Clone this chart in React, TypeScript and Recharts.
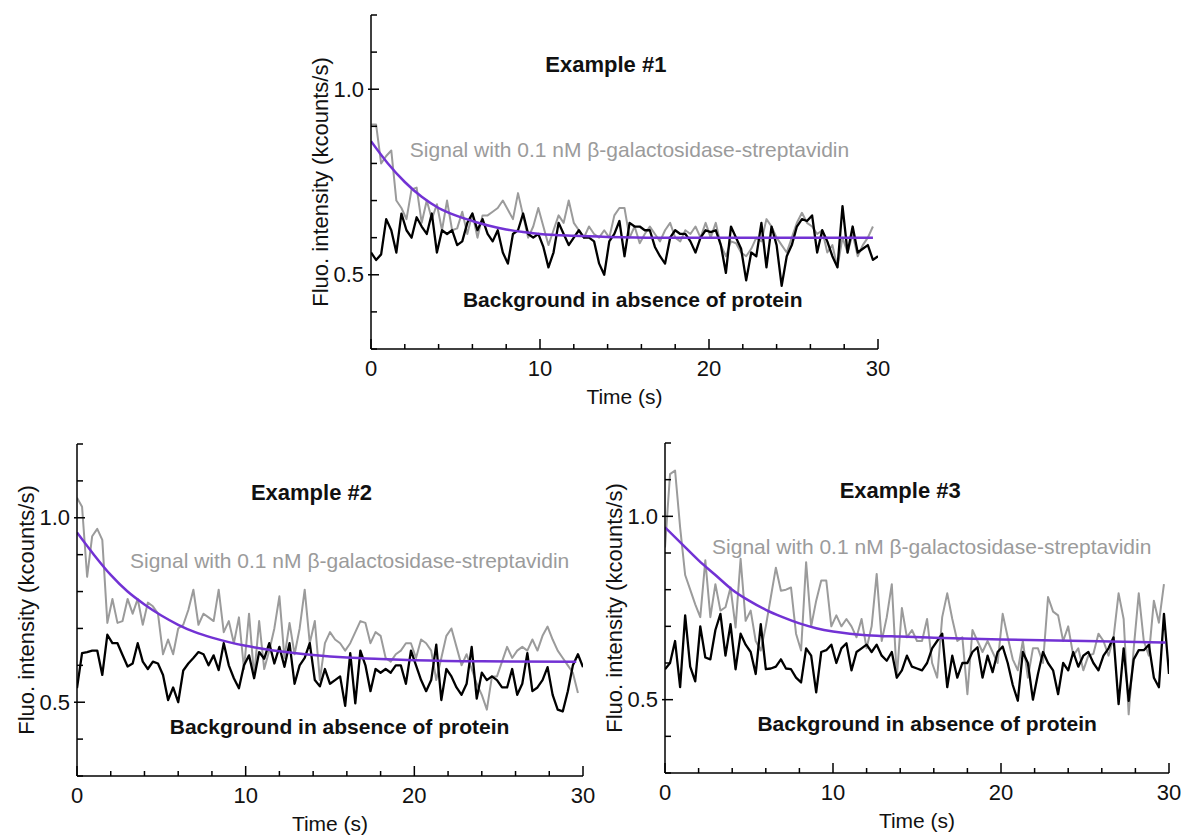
import React from 'react';
import { LineChart, Line, XAxis, YAxis, ReferenceDot } from 'recharts';

const FONT = '"Liberation Sans", Arial, Helvetica, sans-serif';

// sampling grid (s)
const TIME = [
  0, 0.3, 0.6, 0.9, 1.2, 1.5, 1.8, 2.1, 2.4, 2.7,
  3, 3.3, 3.6, 3.9, 4.2, 4.5, 4.8, 5.1, 5.4, 5.7,
  6, 6.3, 6.6, 6.9, 7.2, 7.5, 7.8, 8.1, 8.4, 8.7,
  9, 9.3, 9.6, 9.9, 10.2, 10.5, 10.8, 11.1, 11.4, 11.7,
  12, 12.3, 12.6, 12.9, 13.2, 13.5, 13.8, 14.1, 14.4, 14.7,
  15, 15.3, 15.6, 15.9, 16.2, 16.5, 16.8, 17.1, 17.4, 17.7,
  18, 18.3, 18.6, 18.9, 19.2, 19.5, 19.8, 20.1, 20.4, 20.7,
  21, 21.3, 21.6, 21.9, 22.2, 22.5, 22.8, 23.1, 23.4, 23.7,
  24, 24.3, 24.6, 24.9, 25.2, 25.5, 25.8, 26.1, 26.4, 26.7,
  27, 27.3, 27.6, 27.9, 28.2, 28.5, 28.8, 29.1, 29.4, 29.7,
  30,
];

// Example #1
const EX1_SIGNAL = [
  0.905, 0.905, 0.80, 0.82, 0.835, 0.70, 0.68, 0.65, 0.73, 0.735,
  0.64, 0.70, 0.65, 0.69, 0.62, 0.70, 0.62, 0.625, 0.67, 0.61,
  0.665, 0.60, 0.66, 0.66, 0.67, 0.68, 0.70, 0.675, 0.65, 0.72,
  0.66, 0.60, 0.63, 0.68, 0.63, 0.58, 0.62, 0.66, 0.64, 0.70,
  0.64, 0.62, 0.60, 0.63, 0.61, 0.60, 0.62, 0.60, 0.66, 0.68,
  0.68, 0.60, 0.63, 0.585, 0.61, 0.63, 0.61, 0.59, 0.62, 0.64,
  0.60, 0.59, 0.62, 0.61, 0.63, 0.60, 0.64, 0.60, 0.64, 0.58,
  0.55, 0.59, 0.585, 0.56, 0.55, 0.57, 0.60, 0.59, 0.65, 0.63,
  0.60, 0.58, 0.56, 0.60, 0.64, 0.667, 0.64, 0.63, 0.61, 0.62,
  0.56, 0.58, 0.52, 0.60, 0.56, 0.61, 0.55, 0.58, 0.60, 0.63,
  null,
];
const EX1_BACKGROUND = [
  0.56, 0.54, 0.555, 0.65, 0.62, 0.56, 0.665, 0.62, 0.60, 0.655,
  0.63, 0.61, 0.665, 0.56, 0.62, 0.61, 0.62, 0.58, 0.59, 0.64,
  0.665, 0.62, 0.65, 0.61, 0.59, 0.62, 0.56, 0.53, 0.61, 0.62,
  0.665, 0.61, 0.60, 0.61, 0.575, 0.52, 0.56, 0.64, 0.61, 0.58,
  0.60, 0.62, 0.60, 0.60, 0.59, 0.53, 0.50, 0.59, 0.61, 0.645,
  0.55, 0.64, 0.63, 0.63, 0.62, 0.62, 0.575, 0.55, 0.53, 0.60,
  0.62, 0.61, 0.61, 0.59, 0.56, 0.60, 0.62, 0.615, 0.62, 0.58,
  0.505, 0.63, 0.60, 0.57, 0.485, 0.56, 0.55, 0.64, 0.52, 0.63,
  0.58, 0.47, 0.55, 0.58, 0.63, 0.65, 0.645, 0.66, 0.56, 0.62,
  0.59, 0.55, 0.52, 0.685, 0.56, 0.63, 0.56, 0.57, 0.58, 0.54,
  0.55,
];
const EX1_FIT_T = [0, 1, 2, 3, 4, 5, 6, 7, 8, 9, 10, 12, 14, 17, 20, 25, 29.7];
const EX1_FIT_Y = [0.86, 0.80, 0.75, 0.71, 0.68, 0.66, 0.645, 0.632, 0.622, 0.615, 0.61, 0.605, 0.602, 0.6, 0.6, 0.6, 0.6];

// Example #2
const EX2_SIGNAL = [
  1.054, 1.03, 0.84, 0.95, 0.97, 0.94, 0.715, 0.78, 0.715, 0.72,
  0.78, 0.74, 0.78, 0.71, 0.77, 0.76, 0.74, 0.63, 0.67, 0.63,
  0.70, 0.71, 0.75, 0.805, 0.71, 0.74, 0.73, 0.72, 0.805, 0.69,
  0.72, 0.66, 0.73, 0.59, 0.74, 0.57, 0.72, 0.59, 0.64, 0.70,
  0.787, 0.62, 0.715, 0.63, 0.70, 0.805, 0.66, 0.72, 0.56, 0.66,
  0.69, 0.67, 0.66, 0.64, 0.66, 0.69, 0.72, 0.715, 0.66, 0.69,
  0.68, 0.62, 0.61, 0.63, 0.64, 0.66, 0.66, 0.62, 0.67, 0.66,
  0.64, 0.56, 0.62, 0.68, 0.70, 0.65, 0.60, 0.63, 0.59, 0.55,
  0.52, 0.48, 0.57, 0.57, 0.61, 0.65, 0.62, 0.64, 0.65, 0.64,
  0.67, 0.64, 0.68, 0.705, 0.67, 0.64, 0.62, 0.60, 0.58, 0.525,
  null,
];
const EX2_BACKGROUND = [
  0.538, 0.633, 0.636, 0.64, 0.64, 0.574, 0.683, 0.66, 0.66, 0.628,
  0.597, 0.605, 0.66, 0.61, 0.59, 0.61, 0.605, 0.574, 0.506, 0.54,
  0.50, 0.586, 0.605, 0.62, 0.636, 0.63, 0.60, 0.627, 0.587, 0.66,
  0.60, 0.565, 0.538, 0.60, 0.627, 0.565, 0.636, 0.618, 0.66, 0.605,
  0.65, 0.596, 0.66, 0.55, 0.60, 0.62, 0.66, 0.56, 0.543, 0.59,
  0.55, 0.56, 0.57, 0.49, 0.633, 0.497, 0.64, 0.60, 0.53, 0.59,
  0.58, 0.59, 0.58, 0.60, 0.60, 0.55, 0.64, 0.60, 0.56, 0.53,
  0.56, 0.656, 0.506, 0.59, 0.57, 0.54, 0.52, 0.55, 0.65, 0.51,
  0.58, 0.56, 0.57, 0.56, 0.54, 0.54, 0.59, 0.52, 0.55, 0.633,
  0.53, 0.54, 0.56, 0.595, 0.52, 0.48, 0.475, 0.53, 0.60, 0.63,
  0.595,
];
const EX2_FIT_T = [0, 1, 2, 3, 4, 5, 6, 7, 8, 9, 10, 11, 12, 14, 16, 18, 20, 24, 29.6];
const EX2_FIT_Y = [0.96, 0.90, 0.845, 0.80, 0.765, 0.735, 0.71, 0.69, 0.675, 0.663, 0.653, 0.645, 0.638, 0.628, 0.621, 0.617, 0.614, 0.611, 0.61];

// Example #3
const EX3_SIGNAL = [
  0.915, 1.115, 1.125, 0.97, 0.84, 0.80, 0.76, 0.725, 0.88, 0.725,
  0.815, 0.743, 0.752, 0.806, 0.697, 0.884, 0.715, 0.743, 0.66, 0.634,
  0.70, 0.78, 0.86, 0.797, 0.80, 0.806, 0.68, 0.634, 0.875, 0.70,
  0.77, 0.825, 0.825, 0.70, 0.73, 0.70, 0.72, 0.70, 0.67, 0.72,
  0.64, 0.70, 0.843, 0.66, 0.725, 0.815, 0.56, 0.75, 0.67, 0.69,
  0.66, 0.66, 0.72, 0.60, 0.56, 0.725, 0.79, 0.72, 0.66, 0.67,
  0.515, 0.69, 0.66, 0.63, 0.66, 0.63, 0.60, 0.734, 0.67, 0.61,
  0.58, 0.66, 0.56, 0.64, 0.64, 0.60, 0.78, 0.74, 0.73, 0.66,
  0.70, 0.62, 0.64, 0.58, 0.62, 0.625, 0.68, 0.66, 0.62, 0.67,
  0.79, 0.72, 0.46, 0.64, 0.79, 0.66, 0.62, 0.77, 0.71, 0.815,
  null,
];
const EX3_BACKGROUND = [
  0.583, 0.60, 0.66, 0.534, 0.73, 0.59, 0.55, 0.70, 0.615, 0.61,
  0.69, 0.734, 0.62, 0.706, 0.583, 0.68, 0.65, 0.63, 0.57, 0.706,
  0.583, 0.585, 0.59, 0.61, 0.585, 0.583, 0.56, 0.547, 0.64, 0.62,
  0.52, 0.63, 0.635, 0.65, 0.60, 0.64, 0.654, 0.58, 0.63, 0.64,
  0.65, 0.63, 0.65, 0.62, 0.606, 0.63, 0.56, 0.58, 0.62, 0.59,
  0.585, 0.58, 0.60, 0.64, 0.66, 0.68, 0.534, 0.62, 0.56, 0.60,
  0.60, 0.63, 0.643, 0.56, 0.62, 0.575, 0.63, 0.645, 0.60, 0.54,
  0.497, 0.63, 0.60, 0.50, 0.57, 0.63, 0.60, 0.58, 0.515, 0.60,
  0.58, 0.63, 0.59, 0.62, 0.63, 0.60, 0.58, 0.62, 0.64, 0.67,
  0.488, 0.64, 0.497, 0.61, 0.635, 0.635, 0.65, 0.56, 0.534, 0.734,
  0.57,
];
const EX3_FIT_T = [0, 1, 2, 3, 4, 5, 6, 7, 8, 9, 10, 11, 12, 14, 16, 20, 25, 29.8];
const EX3_FIT_Y = [0.97, 0.925, 0.88, 0.84, 0.80, 0.77, 0.745, 0.725, 0.708, 0.695, 0.686, 0.68, 0.676, 0.672, 0.669, 0.664, 0.66, 0.656];

// axes
const X_TICKS = [0, 2, 4, 6, 8, 10, 12, 14, 16, 18, 20, 22, 24, 26, 28, 30];
const X_LABELED = [0, 10, 20, 30];
const Y_TICKS = [0.3, 0.4, 0.5, 0.6, 0.7, 0.8, 0.9, 1.0, 1.1, 1.2];
const Y_LABELED = [0.5, 1.0];

const TITLES = ['Example #1', 'Example #2', 'Example #3'];
const SIGNAL_TEXT = 'Signal with 0.1 nM \u03B2-galactosidase-streptavidin';
const BACKGROUND_TEXT = 'Background in absence of protein';
const X_TITLE = 'Time (s)';
const Y_TITLE = 'Fluo. intensity (kcounts/s)';

const zip = (t: number[], y: (number | null)[]) => t.map((x, i) => ({ x, y: y[i] }));

const XTick = (props: any) => {
  const { x, y, payload } = props;
  const v = payload.value;
  const major = v % 10 === 0;
  return (
    <g>
      <line x1={x} x2={x} y1={y} y2={y - (major ? 10 : 5)} stroke="#000" strokeWidth={1.5} />
      {X_LABELED.includes(v) && (
        <text x={x} y={y + 19} dy="0.35em" textAnchor="middle" fontSize={22} fontFamily={FONT} fill="#111">
          {v}
        </text>
      )}
    </g>
  );
};

const YTick = (props: any) => {
  const { x, y, payload } = props;
  const v = payload.value;
  const labeled = Y_LABELED.some((l) => Math.abs(l - v) < 1e-6);
  return (
    <g>
      <line x1={labeled ? x - 3 : x} x2={x + (labeled ? 8 : 6)} y1={y} y2={y} stroke="#000" strokeWidth={1.5} />
      {labeled && (
        <text x={x - 7} y={y} dy="0.35em" textAnchor="end" fontSize={22} fontFamily={FONT} fill="#111">
          {v.toFixed(1)}
        </text>
      )}
    </g>
  );
};

const XTitle = (props: any) => {
  const vb = props.viewBox || { x: 0, y: 0, width: 0, height: 0 };
  return (
    <text x={vb.x + vb.width / 2} y={vb.y + 48} dy="0.35em" textAnchor="middle" fontSize={21} fontFamily={FONT} fill="#111">
      {X_TITLE}
    </text>
  );
};

const YTitle = (props: any) => {
  const vb = props.viewBox || { x: 0, y: 0, width: 0, height: 0 };
  const cx = vb.x + vb.width - 51;
  const cy = vb.y + vb.height / 2;
  return (
    <text x={cx} y={cy} dy="0.35em" transform={`rotate(-90 ${cx} ${cy})`} textAnchor="middle" fontSize={22} fontFamily={FONT} fill="#111">
      {Y_TITLE}
    </text>
  );
};

const makeText = (value: string, anchor: string, color: string, bold: boolean, size: number) => (props: any) => {
  const vb = props.viewBox || { x: 0, y: 0 };
  return (
    <text x={vb.x} y={vb.y} dy="0.35em" textAnchor={anchor} fontSize={size} fontFamily={FONT} fill={color} fontWeight={bold ? 'bold' : 'normal'}>
      {value}
    </text>
  );
};

type PanelProps = {
  left: number; top: number; width: number; height: number;
  margin: { top: number; right: number; bottom: number; left: number };
  yWidth: number;
  signal: (number | null)[]; background: (number | null)[];
  fitT: number[]; fitY: number[];
  title: string; titlePos: [number, number]; sigPos: [number, number]; bgPos: [number, number];
};

function Panel(p: PanelProps) {
  const sig = zip(TIME, p.signal);
  const bg = zip(TIME, p.background);
  const fit = zip(p.fitT, p.fitY);
  return (
    <div style={{ position: 'absolute', left: p.left, top: p.top }}>
      <LineChart width={p.width} height={p.height} margin={p.margin}>
        <XAxis
          dataKey="x" type="number" domain={[0, 30]} ticks={X_TICKS} interval={0}
          tickSize={0} tickMargin={0} tickLine={false} tick={<XTick />} height={60}
          axisLine={{ stroke: '#000', strokeWidth: 1.5 }} allowDataOverflow label={XTitle}
        />
        <YAxis
          type="number" domain={[0.3, 1.2]} ticks={Y_TICKS} interval={0}
          tickSize={0} tickMargin={0} tickLine={false} tick={<YTick />} width={p.yWidth}
          axisLine={{ stroke: '#000', strokeWidth: 1.5 }} allowDataOverflow label={YTitle}
        />
        <Line data={sig} dataKey="y" type="linear" stroke="#9b9b9b" strokeWidth={2} dot={false} isAnimationActive={false} strokeLinejoin="round" />
        <Line data={bg} dataKey="y" type="linear" stroke="#000000" strokeWidth={2.3} dot={false} isAnimationActive={false} strokeLinejoin="round" />
        <Line data={fit} dataKey="y" type="monotone" stroke="#7232d4" strokeWidth={2.5} dot={false} isAnimationActive={false} />
        <ReferenceDot x={p.titlePos[0]} y={p.titlePos[1]} r={0} fill="none" stroke="none" label={makeText(p.title, 'middle', '#111', true, 22)} />
        <ReferenceDot x={p.sigPos[0]} y={p.sigPos[1]} r={0} fill="none" stroke="none" label={makeText(SIGNAL_TEXT, 'start', '#9b9b9b', false, 21)} />
        <ReferenceDot x={p.bgPos[0]} y={p.bgPos[1]} r={0} fill="none" stroke="none" label={makeText(BACKGROUND_TEXT, 'start', '#111', true, 21)} />
      </LineChart>
    </div>
  );
}

export default function App() {
  return (
    <div style={{ position: 'absolute', left: 0, top: 0, width: 1186, height: 838, background: '#fff', overflow: 'hidden' }}>
      <Panel
        left={250} top={0} width={650} height={420}
        margin={{ top: 15, right: 22, bottom: 11, left: 0 }} yWidth={121}
        signal={EX1_SIGNAL} background={EX1_BACKGROUND} fitT={EX1_FIT_T} fitY={EX1_FIT_Y}
        title={TITLES[0]} titlePos={[13.9, 1.068]} sigPos={[2.3, 0.838]} bgPos={[5.44, 0.432]}
      />
      <Panel
        left={0} top={420} width={620} height={418}
        margin={{ top: 24, right: 37, bottom: 2, left: 0 }} yWidth={77}
        signal={EX2_SIGNAL} background={EX2_BACKGROUND} fitT={EX2_FIT_T} fitY={EX2_FIT_Y}
        title={TITLES[1]} titlePos={[13.9, 1.068]} sigPos={[3.14, 0.883]} bgPos={[5.5, 0.435]}
      />
      <Panel
        left={600} top={420} width={586} height={418}
        margin={{ top: 23, right: 17, bottom: 5, left: 0 }} yWidth={65}
        signal={EX3_SIGNAL} background={EX3_BACKGROUND} fitT={EX3_FIT_T} fitY={EX3_FIT_Y}
        title={TITLES[2]} titlePos={[14.0, 1.07]} sigPos={[2.8, 0.918]} bgPos={[5.5, 0.435]}
      />
    </div>
  );
}
